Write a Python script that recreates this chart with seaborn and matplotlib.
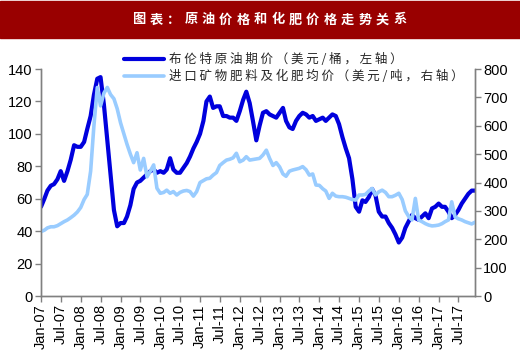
import matplotlib
matplotlib.use('Agg')
import matplotlib.pyplot as plt
from matplotlib.patches import Rectangle
import seaborn as sns
import pandas as pd

# monthly values, Jan-07 .. Dec-17
brent = [55, 60, 65, 68, 69, 72, 77, 71, 77, 84, 93, 92,
         92, 95, 103, 111, 124, 134, 135, 118, 96, 75, 53, 43,
         45, 45, 49, 56, 66, 70, 71, 73, 75, 77, 78, 76,
         77, 76, 78, 85, 78, 76, 76, 79, 82, 86, 91, 95,
         100, 108, 120, 123, 116, 117, 117, 111, 111, 110, 110, 108,
         114, 121, 126, 119, 108, 96, 105, 113, 114, 112, 111, 110,
         113, 116, 108, 104, 103, 108, 111, 113, 112, 110, 111, 108,
         109, 110, 108, 110, 112, 111, 106, 98, 91, 85, 72, 55,
         52, 59, 58, 61, 66, 62, 52, 49, 49, 45, 42, 38,
         33, 36, 42, 46, 50, 48, 47, 49, 51, 48, 54, 55,
         57, 55, 55, 52, 48, 50, 53, 57, 60, 63, 65, 65]

fertilizer = [227, 232, 240, 244, 244, 248, 255, 262, 268, 276, 285, 296,
              312, 340, 358, 440, 600, 735, 670, 715, 735, 710, 695, 660,
              610, 570, 535, 500, 470, 505, 444, 485, 420, 440, 462, 380,
              362, 365, 373, 362, 368, 356, 365, 370, 372, 368, 352, 368,
              400, 407, 413, 415, 426, 435, 460, 470, 479, 482, 487, 503,
              473, 479, 491, 479, 481, 483, 485, 497, 514, 485, 460, 470,
              455, 430, 422, 440, 444, 447, 450, 456, 445, 426, 430, 391,
              390, 378, 370, 344, 362, 352, 350, 350, 348, 344, 340, 338,
              356, 356, 358, 370, 379, 356, 367, 373, 365, 350, 350, 355,
              362, 340, 300, 280, 268, 344, 268, 262, 255, 250, 247, 248,
              250, 255, 262, 268, 332, 279, 272, 268, 262, 258, 254, 260]

dates = pd.date_range('2007-01-01', periods=len(brent), freq='MS')
tick_dates = pd.date_range('2007-01-01', '2017-07-01', freq='6MS')
tick_labels = [d.strftime('%b-%y') for d in tick_dates]

title = '图表：原油价格和化肥价格走势关系'
label_brent = '布伦特原油期价（美元/桶，左轴）'
label_fert = '进口矿物肥料及化肥均价（美元/吨，右轴）'

sns.set_style('white')
plt.rcParams['font.family'] = ['Liberation Sans', 'Noto Sans CJK SC']

df = pd.DataFrame({'date': dates, 'brent': brent, 'fert': fertilizer})

W, H = 520, 357
fig = plt.figure(figsize=(W / 100, H / 100), dpi=100)
ax = fig.add_axes([41 / W, 1 - 296 / H, (475 - 41) / W, (296 - 69) / H])
ax2 = ax.twinx()

dark = '#0000DD'
light = '#99CCFF'
sns.lineplot(data=df, x='date', y='brent', ax=ax, color=dark, linewidth=3.0)
sns.lineplot(data=df, x='date', y='fert', ax=ax2, color=light, linewidth=2.6)

ax.set_xlim(dates[0], dates[-1])
ax.set_ylim(0, 140)
ax.set_yticks(range(0, 141, 20))
ax2.set_ylim(0, 800)
ax2.set_yticks(range(0, 801, 100))
ax.set_xticks(tick_dates)
ax.set_xticklabels(tick_labels, rotation=90)
for a in (ax, ax2):
    a.set_xlabel('')
    a.set_ylabel('')
    a.spines['top'].set_visible(False)
    for s in ('left', 'right', 'bottom'):
        a.spines[s].set_color('#808080')
        a.spines[s].set_linewidth(1.0)
    a.tick_params(direction='out', length=4, width=1, color='#808080',
                  labelsize=10.5, labelcolor='black', pad=2)
ax.tick_params(axis='y', left=True)
ax2.tick_params(axis='y', right=True)
ax.tick_params(axis='x', bottom=True)

# title banner
fig.patches.append(Rectangle((0, 1 - 38 / H), 1, 37 / H, transform=fig.transFigure,
                             color='#990000', zorder=0))
for i, ch in enumerate(title):
    fig.text((138.7 + i * 17.4) / W, 1 - 19.5 / H, ch, color='white',
             fontsize=9.5, fontweight='bold', family=['Noto Sans CJK SC'],
             ha='center', va='center')

handles = [ax.get_lines()[0], ax2.get_lines()[0]]
labels = [' '.join(label_brent), ' '.join(label_fert)]
fig.legend(handles, labels, loc='upper left',
           bbox_to_anchor=(124 / W, 1 - 53 / H), frameon=False,
           prop={'family': ['Noto Sans CJK SC'], 'size': 9},
           handlelength=3.2, handletextpad=0.4, labelspacing=0.3,
           borderpad=0, borderaxespad=0)

fig.savefig('out.png', dpi=100)
